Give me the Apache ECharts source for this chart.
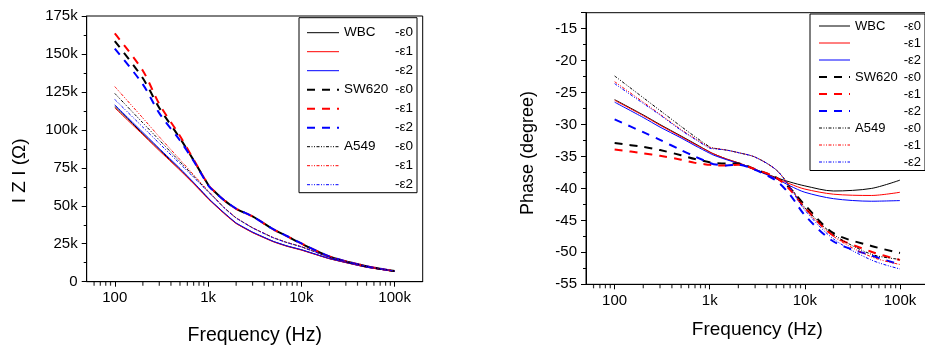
<!DOCTYPE html>
<html><head><meta charset="utf-8">
<script src="https://cdn.jsdelivr.net/npm/echarts@6/dist/echarts.min.js"></script>
<style>html,body{margin:0;padding:0;background:#fff}#c{width:925px;height:347px}</style>
</head><body><div id="c"></div>
<script>
// ---------- data ----------
const freq = [100, 200, 300, 500, 700, 1000, 1100, 1500, 2000, 3000, 5000, 7000, 10000, 20000, 50000, 100000];
const minorTickFreq = [60, 70, 80, 90, 200, 300, 400, 500, 600, 700, 800, 900,
  2000, 3000, 4000, 5000, 6000, 7000, 8000, 9000,
  20000, 30000, 40000, 50000, 60000, 70000, 80000, 90000];
const xTickLabels = {100: '100', 1000: '1k', 10000: '10k', 100000: '100k'};
const groups = ['WBC', 'SW620', 'A549'];
const eps = ['-ε0', '-ε1', '-ε2'];

// |Z| in kΩ
const zWBC0 = [115.5, 97.5, 87.0, 74.0, 65.0, 55.0, 52.5, 45.0, 38.5, 32.5, 26.5, 23.5, 21.0, 15.2, 9.6, 6.8];
const zWBC1 = [114.5, 96.8, 86.3, 73.4, 64.5, 54.6, 52.2, 44.6, 38.3, 32.3, 26.3, 23.3, 20.8, 15.1, 9.5, 6.8];
const zWBC2 = [116.5, 98.3, 87.7, 74.6, 65.4, 55.3, 52.7, 45.2, 38.7, 32.7, 26.6, 23.6, 21.1, 15.3, 9.6, 6.8];
const zSW0 = [158.5, 134.0, 114.5, 94.5, 80.0, 64.0, 61.0, 53.5, 48.0, 43.0, 34.5, 30.0, 25.0, 16.6, 10.2, 7.0];
const zSW1 = [163.5, 139.0, 117.0, 96.0, 80.5, 64.0, 61.0, 53.5, 48.0, 43.0, 34.5, 30.0, 25.2, 16.6, 10.2, 7.0];
const zSW2 = [153.5, 130.0, 111.0, 93.0, 79.5, 63.5, 60.8, 53.5, 48.2, 43.0, 34.6, 30.1, 25.2, 16.7, 10.2, 7.0];
const zA0 = [124.0, 104.6, 93.3, 79.0, 69.6, 59.5, 57.0, 48.5, 42.0, 35.5, 29.0, 25.8, 23.0, 16.2, 10.2, 7.0];
const zA1 = [128.5, 107.8, 95.4, 80.4, 70.4, 59.9, 57.3, 48.7, 42.1, 35.6, 29.1, 25.9, 23.1, 16.3, 10.3, 7.0];
const zA2 = [120.0, 101.8, 91.1, 77.7, 68.8, 59.2, 56.8, 48.4, 41.9, 35.4, 28.9, 25.7, 22.9, 16.1, 10.2, 7.0];

// phase in degree
const pWBC0 = [-26.1, -28.5, -30.0, -31.8, -33.0, -34.3, -34.6, -35.4, -36.0, -37.0, -38.3, -39.0, -39.6, -40.4, -40.0, -38.7];
const pWBC1 = [-26.2, -28.6, -30.1, -31.9, -33.1, -34.3, -34.6, -35.4, -36.0, -37.0, -38.4, -39.3, -40.1, -40.9, -41.1, -40.6];
const pWBC2 = [-26.5, -28.9, -30.4, -32.1, -33.3, -34.5, -34.8, -35.5, -36.1, -37.1, -38.5, -39.6, -40.6, -41.6, -42.0, -41.9];
const pSW0 = [-32.9, -33.5, -34.0, -34.8, -35.4, -35.9, -36.0, -36.1, -36.1, -37.0, -38.3, -40.0, -42.6, -47.0, -49.0, -50.1];
const pSW1 = [-33.9, -34.5, -34.9, -35.5, -36.0, -36.3, -36.4, -36.4, -36.3, -37.0, -38.3, -40.2, -43.0, -47.4, -49.9, -51.2];
const pSW2 = [-29.2, -31.2, -32.4, -34.0, -35.0, -36.0, -36.2, -36.4, -36.3, -37.1, -38.8, -41.0, -44.2, -48.3, -50.5, -51.9];
const pA0 = [-22.4, -25.8, -27.8, -30.3, -31.9, -33.5, -33.7, -34.0, -34.4, -35.1, -37.1, -39.7, -43.0, -47.2, -50.3, -51.1];
const pA1 = [-23.3, -26.5, -28.4, -30.8, -32.2, -33.6, -33.7, -34.0, -34.4, -35.1, -37.1, -39.8, -43.2, -47.5, -50.7, -51.9];
const pA2 = [-23.6, -26.7, -28.5, -30.9, -32.3, -33.7, -33.8, -34.0, -34.4, -35.1, -37.1, -39.9, -43.4, -47.9, -51.2, -52.6];

// ---------- build ----------
const FONT = 'Liberation Sans';
const colors = ['#000000', '#ff0000', '#0000ff'];
const styles = {
  WBC: {width: 1, type: 'solid'},
  SW620: {width: 2, type: [8, 7]},
  A549: {width: 1, type: [3, 1.5, 1, 1.5, 1, 1.5]}
};
const zData = {WBC: [zWBC0, zWBC1, zWBC2], SW620: [zSW0, zSW1, zSW2], A549: [zA0, zA1, zA2]};
const pData = {WBC: [pWBC0, pWBC1, pWBC2], SW620: [pSW0, pSW1, pSW2], A549: [pA0, pA1, pA2]};
const names = [];
groups.forEach(g => eps.forEach(e => names.push(g + ' ' + e)));

function makeSeries(dataMap, axisIdx) {
  const out = [];
  groups.forEach(g => {
    eps.forEach((e, i) => {
      out.push({
        name: g + ' ' + e,
        type: 'line',
        xAxisIndex: axisIdx, yAxisIndex: axisIdx,
        showSymbol: false, symbol: 'none',
        smooth: (axisIdx === 0 && g !== 'SW620') ? 0.12 : 0.3,
        lineStyle: {color: colors[i], width: styles[g].width,
          type: Array.isArray(styles[g].type) ? styles[g].type.slice() : styles[g].type},
        itemStyle: {color: colors[i]},
        data: freq.map((f, k) => [f, dataMap[g][i][k]]),
        z: 3
      });
    });
  });
  return out;
}

function legendFormatter(name) {
  const parts = name.split(' ');
  const first = parts[1] === '-ε0';
  return '{n|' + (first ? parts[0] : '\u00a0') + '}{e|' + parts[1] + '}';
}

function xAxis(gridIndex) {
  return {
    type: 'log', logBase: 10, gridIndex, min: 50, max: 200000,
    axisLine: {show: true, lineStyle: {color: '#000', width: 1}},
    axisTick: {show: true, inside: false, length: 5, lineStyle: {color: '#000'}},
    axisLabel: {
      color: '#000', fontFamily: FONT, fontSize: 15, margin: 9,
      showMinLabel: false, showMaxLabel: false,
      formatter: v => xTickLabels[Math.round(v)] || ''
    },
    splitLine: {show: false},
    name: 'Frequency (Hz)', nameLocation: 'middle',
    nameGap: gridIndex === 0 ? 44 : 36,
    nameTextStyle: {color: '#000', fontFamily: FONT, fontSize: gridIndex === 0 ? 19.5 : 19}
  };
}

function tickSeries(axisIdx, yMin) {
  return {
    type: 'scatter', xAxisIndex: axisIdx, yAxisIndex: axisIdx,
    silent: true, clip: false, z: 5,
    symbol: 'rect', symbolSize: [1.2, 4], symbolOffset: [0, 2],
    itemStyle: {color: '#000'},
    data: minorTickFreq.map(f => [f, yMin])
  };
}

function legendOpt(left, top, padding, itemWidth, itemGap, fs, nW, eW, z) {
  return {
    data: names.slice(), orient: 'vertical', left, top, z,
    padding, itemWidth, itemHeight: 14, itemGap,
    borderColor: '#000', borderWidth: 1, backgroundColor: '#fff',
    selectedMode: false, formatter: legendFormatter,
    itemStyle: {opacity: 0, borderWidth: 0},
    lineStyle: {width: 'inherit', color: 'inherit', type: 'inherit'},
    textStyle: {color: '#000', fontFamily: FONT, fontSize: fs,
      rich: {n: {width: nW, fontFamily: FONT, fontSize: fs}, e: {width: eW, align: 'right', fontFamily: FONT, fontSize: fs}}}
  };
}

const chart = echarts.init(document.getElementById('c'), null, {renderer: 'canvas'});
chart.setOption({
  backgroundColor: '#fff',
  animation: false,
  grid: [
    {left: 86.7, top: 16, right: 502.3, bottom: 65.3, outerBoundsMode: 'none', containLabel: false,
      show: true, borderColor: '#000', borderWidth: 1, backgroundColor: 'transparent'},
    {left: 586, top: 12.7, right: -3.6, bottom: 62.7, outerBoundsMode: 'none', containLabel: false,
      show: true, borderColor: '#000', borderWidth: 1, backgroundColor: 'transparent'}
  ],
  xAxis: [xAxis(0), xAxis(1)],
  yAxis: [
    {
      type: 'value', gridIndex: 0, min: 0, max: 175, interval: 25,
      axisLine: {show: true, lineStyle: {color: '#000'}},
      axisTick: {show: true, inside: false, length: 5, lineStyle: {color: '#000'}},
      minorTick: {show: true, splitNumber: 2, length: 3, lineStyle: {color: '#000'}},
      axisLabel: {color: '#000', fontFamily: FONT, fontSize: 15, margin: 9,
        formatter: v => v === 0 ? '0' : v + 'k'},
      splitLine: {show: false},
      name: 'I Z I (Ω)', nameLocation: 'middle', nameGap: 57,
      nameTextStyle: {color: '#000', fontFamily: FONT, fontSize: 19, padding: [0, 44, 0, 0]}
    },
    {
      type: 'value', gridIndex: 1, min: -55, max: -12.5, interval: 5,
      axisLine: {show: true, lineStyle: {color: '#000'}},
      axisTick: {show: true, inside: false, length: 5, lineStyle: {color: '#000'}},
      minorTick: {show: true, splitNumber: 2, length: 3, lineStyle: {color: '#000'}},
      axisLabel: {color: '#000', fontFamily: FONT, fontSize: 15, margin: 9, showMaxLabel: false},
      splitLine: {show: false},
      name: 'Phase (degree)', nameLocation: 'middle', nameGap: 49,
      nameTextStyle: {color: '#000', fontFamily: FONT, fontSize: 18, padding: [0, 9, 0, 0]}
    }
  ],
  legend: [
    legendOpt(810, 14, [5.5, 4, 2, 8], 31, 4, 13, 50, 16, 6),
    legendOpt(299, 17.7, [8, 4, 1, 7], 32, 5, 13.5, 51, 18, 5)
  ],
  series: [].concat(makeSeries(zData, 0), makeSeries(pData, 1), [tickSeries(0, 0), tickSeries(1, -55)])
});
</script>
</body></html>
